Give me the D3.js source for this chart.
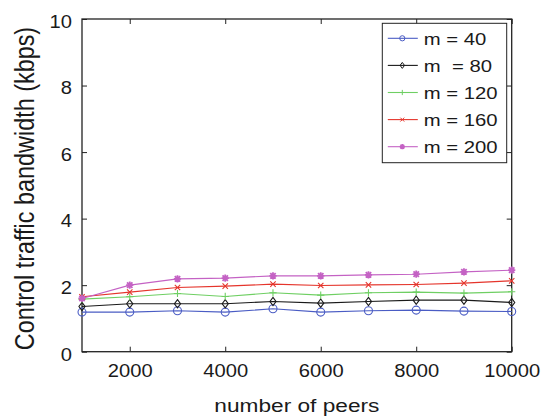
<!DOCTYPE html>
<html>
<head>
<meta charset="utf-8">
<script src="https://cdn.jsdelivr.net/npm/d3@7"></script>
<style>
  body { margin: 0; background: #fff; }
  text { font-family: 'Liberation Sans', Arial, Helvetica, sans-serif; fill: #1a1a1a; white-space: pre; }
</style>
</head>
<body>
<div id="chart"></div>
<script>
// data
let peers = [1000, 2000, 3000, 4000, 5000, 6000, 7000, 8000, 9000, 10000]
let m40 = [1.19, 1.19, 1.23, 1.19, 1.29, 1.19, 1.23, 1.25, 1.22, 1.21]
let m80 = [1.36, 1.44, 1.44, 1.44, 1.51, 1.46, 1.51, 1.55, 1.55, 1.48]
let m120 = [1.58, 1.65, 1.75, 1.66, 1.77, 1.70, 1.77, 1.79, 1.76, 1.80]
let m160 = [1.65, 1.79, 1.93, 1.97, 2.03, 1.99, 2.01, 2.02, 2.06, 2.13]
let m200 = [1.60, 2.00, 2.19, 2.21, 2.28, 2.28, 2.31, 2.33, 2.40, 2.45]
let seriesNames = ['m = 40', 'm  = 80', 'm = 120', 'm = 160', 'm = 200']
let xTicks = [2000, 4000, 6000, 8000, 10000]
let yTicks = [0, 2, 4, 6, 8, 10]

let series = [
  { name: seriesNames[0], values: m40, color: '#4a5cc4', marker: 'circle' },
  { name: seriesNames[1], values: m80, color: '#1a1a1a', marker: 'diamond' },
  { name: seriesNames[2], values: m120, color: '#6fcf63', marker: 'plus' },
  { name: seriesNames[3], values: m160, color: '#e5352c', marker: 'cross' },
  { name: seriesNames[4], values: m200, color: '#c462c4', marker: 'star' }
]

let W = 541
let H = 416
let margin = { top: 19, left: 82, right: 29.3, bottom: 64.3 }
let width = W - margin.left - margin.right
let height = H - margin.top - margin.bottom
let sx = 1.18 // picture is a bit wider than tall
let tickSx = 1.09

let svg = d3
  .select('#chart')
  .append('svg')
  .attr('width', W)
  .attr('height', H)

let g = svg.append('g').attr('transform', `translate(${margin.left},${margin.top})`)

let x = d3.scaleLinear().domain([1000, 10000]).range([0, width])
let y = d3.scaleLinear().domain([0, 10]).range([height, 0])

// marker shapes, matlab style
function markerPath(type, s) {
  let p = d3.path()
  if (type === 'circle') {
    p.moveTo(s, 0)
    p.arc(0, 0, s, 0, Math.PI * 2)
  } else if (type === 'diamond') {
    p.moveTo(0, -s * 1.15)
    p.lineTo(s * 0.85, 0)
    p.lineTo(0, s * 1.15)
    p.lineTo(-s * 0.85, 0)
    p.closePath()
  } else if (type === 'plus') {
    p.moveTo(-s, 0); p.lineTo(s, 0)
    p.moveTo(0, -s); p.lineTo(0, s)
  } else if (type === 'cross') {
    let a = s * 0.75
    p.moveTo(-a, -a); p.lineTo(a, a)
    p.moveTo(-a, a); p.lineTo(a, -a)
  } else {
    let a = s * 0.75
    p.moveTo(-s, 0); p.lineTo(s, 0)
    p.moveTo(0, -s); p.lineTo(0, s)
    p.moveTo(-a, -a); p.lineTo(a, a)
    p.moveTo(-a, a); p.lineTo(a, -a)
  }
  return p.toString()
}

// axes with inward ticks on all four sides
let xAxis = g.append('g')
  .attr('transform', `translate(0,${height})`)
  .call(d3.axisBottom(x).tickValues(xTicks).tickFormat(d3.format('d')).tickSizeInner(-5).tickSizeOuter(0))
let xTop = g.append('g')
  .call(d3.axisTop(x).tickValues(xTicks).tickSizeInner(-5).tickSizeOuter(0).tickFormat(''))
let yAxis = g.append('g')
  .call(d3.axisLeft(y).tickValues(yTicks).tickSizeInner(-5).tickSizeOuter(0))
let yRight = g.append('g')
  .attr('transform', `translate(${width},0)`)
  .call(d3.axisRight(y).tickValues(yTicks).tickSizeInner(-5).tickSizeOuter(0).tickFormat(''))

g.selectAll('.domain').remove()
g.selectAll('.tick line').attr('stroke', '#222').attr('stroke-width', 1)

xAxis.selectAll('text')
  .attr('font-size', 18.5)
  .attr('fill', '#1a1a1a')
  .attr('y', 12.5)
  .attr('dy', '0.71em')
  .attr('transform', `scale(${tickSx},1)`)

yAxis.selectAll('text')
  .attr('font-size', 18.5)
  .attr('fill', '#1a1a1a')
  .attr('x', -10 / tickSx)
  .attr('dy', '0.45em')
  .attr('transform', `scale(${tickSx},1)`)

// frame
g.append('rect')
  .attr('width', width)
  .attr('height', height)
  .attr('fill', 'none')
  .attr('stroke', '#222')
  .attr('stroke-width', 1.3)

// lines
let line = d3.line()
  .x((d, i) => x(peers[i]))
  .y(d => y(d))

series.forEach(s => {
  g.append('path')
    .datum(s.values)
    .attr('d', line)
    .attr('fill', 'none')
    .attr('stroke', s.color)
    .attr('stroke-width', 1.1)

  g.selectAll(null)
    .data(s.values)
    .enter()
    .append('path')
    .attr('d', markerPath(s.marker, s.marker === 'circle' ? 4 : 3.6))
    .attr('transform', (d, i) => `translate(${x(peers[i])},${y(d)})`)
    .attr('fill', 'none')
    .attr('stroke', s.color)
    .attr('stroke-width', s.marker === 'star' ? 1.8 : 1.1)
})

// legend
let legend = svg.append('g').attr('transform', 'translate(382.3,23.3)')

legend.append('rect')
  .attr('width', 124.4)
  .attr('height', 139.4)
  .attr('fill', '#fff')
  .attr('stroke', '#222')
  .attr('stroke-width', 1)

legend.selectAll('.legend-entry')
  .data(series)
  .enter()
  .append('g')
  .attr('class', 'legend-entry')
  .attr('transform', (d, i) => `translate(0,${15 + i * 27.1})`)
  .each(function(d) {
    let e = d3.select(this)
    e.append('line')
      .attr('x1', 5.5).attr('x2', 35.5)
      .attr('stroke', d.color)
      .attr('stroke-width', 1.1)
    e.append('path')
      .attr('d', markerPath(d.marker, 2.6))
      .attr('transform', 'translate(20,0)')
      .attr('fill', 'none')
      .attr('stroke', d.color)
      .attr('stroke-width', d.marker === 'star' ? 1.6 : 1)
    e.append('text')
      .text(d.name)
      .attr('font-size', 17.2)
      .attr('dy', '0.36em')
      .attr('transform', `translate(41.5,0) scale(${sx},1)`)
  })

// axis titles
svg.append('text')
  .text('number of peers')
  .attr('text-anchor', 'middle')
  .attr('font-size', 18.6)
  .attr('transform', `translate(${margin.left + width / 2},412) scale(1.22,1)`)

svg.append('text')
  .text('Control traffic bandwidth (kbps)')
  .attr('text-anchor', 'middle')
  .attr('font-size', 23.4)
  .attr('transform', `translate(33.5,188.5) scale(1.22,1) rotate(-90)`)
</script>
</body>
</html>
